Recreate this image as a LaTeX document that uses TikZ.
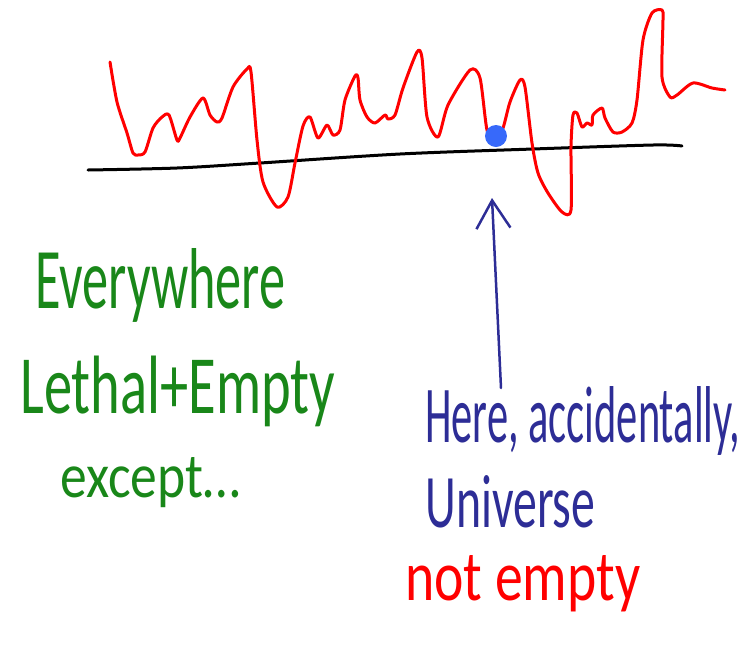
\documentclass[tikz,border=0pt]{standalone}
\usepackage{fontspec}
\usepackage{graphicx}
\usepackage{xcolor}
\setmainfont{Carlito}
\usetikzlibrary{arrows.meta, positioning, calc}
\definecolor{penred}{RGB}{255,0,0}
\definecolor{pengreen}{RGB}{25,135,25}
\definecolor{pennavy}{RGB}{45,45,150}
\definecolor{dotblue}{RGB}{55,105,250}

\begin{document}
\begin{tikzpicture}[x=0.02cm, y=-0.02cm,
    pen/.style={line width=0.6mm, line cap=round, line join=round},
    scribble/.style={inner sep=0pt, anchor=base west}]
\useasboundingbox (0,0) rectangle (752,647);

% Ground line
\draw[pen, black] plot[smooth, tension=0.5] coordinates {(88,170) (177,168) (260,163) (400,154) (533,149) (653,145) (682,146)};

% Landscape
\draw[pen, penred] plot[smooth, tension=0.45] coordinates {
    (110,62) (117,102) (127,133) (133,153) (138,155) (145,152) (153,128) (162,117) (169,115)
    (177,140) (180,138) (190,117) (203,98) (210,115) (217,122) (222,118) (233,87) (247,69)
    (251,72) (257,140) (263,182) (277,207) (288,197) (295,163) (303,126) (310,117) (318,138)
    (327,125) (333,135) (340,130) (345,100) (355,76) (358,78) (360,100) (367,117) (375,123)
    (385,115) (388,119) (395,115) (403,88) (417,52) (422,58) (427,117) (438,137) (448,105)
    (470,70) (480,78) (487,130) (495,140) (503,128) (510,102) (520,80) (525,87) (532,143)
    (538,173) (548,193) (562,212) (571,210) (571,147) (573,115) (577,113) (582,127) (587,123)
    (592,125) (593,115) (602,108) (605,118) (613,132) (622,132) (632,123) (637,100) (643,40)
    (652,13) (662,10) (663,20) (662,77) (670,97) (677,95) (693,83) (712,88) (725,90)};

% The spot
\node[circle, fill=dotblue, minimum size=0.44cm, inner sep=0pt] (dot) at (496,136) {};

% Pointer
\coordinate (arrowfoot) at (501,388);
\coordinate (arrowtip) at (492,198);
\draw[line width=0.5mm, pennavy, line cap=round, -{Straight Barb[length=5.6mm, width=6.8mm, line width=0.5mm]}] (arrowfoot) -- (arrowtip);

% Left note
\node[scribble, pengreen] (everywhere) at (35,308) {\resizebox{50mm}{12mm}{Everywhere}};
\node[scribble, pengreen] (lethal) at (20,413) {\resizebox{63mm}{11.5mm}{Lethal+Empty}};
\node[scribble, pengreen] (except) at (60,497) {\resizebox{36mm}{8mm}{except\dots}};

% Right note
\node[scribble, pennavy] (here) at (425,442) {\resizebox{63mm}{11.2mm}{Here, accidentally,}};
\node[scribble, pennavy] (universe) at (425,527) {\resizebox{34mm}{10.4mm}{Universe}};
\node[scribble, penred] (notempty) at (405,600) {\resizebox{47mm}{9mm}{not empty}};

\end{tikzpicture}
\end{document}
